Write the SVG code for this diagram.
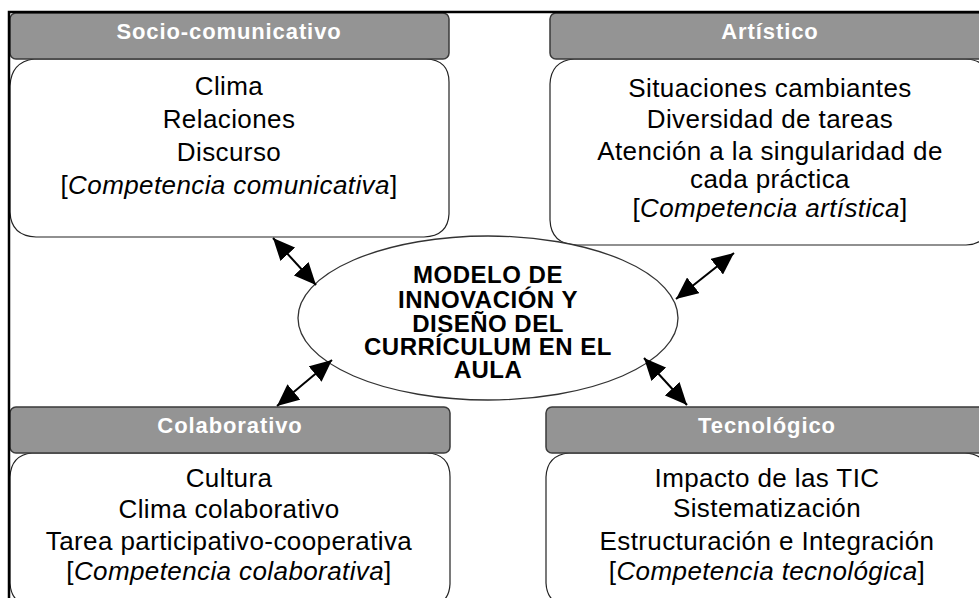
<svg xmlns="http://www.w3.org/2000/svg" width="979" height="598" viewBox="0 0 979 598">
<style>
.hdr{fill:#949494;stroke:#3a3a3a;stroke-width:1.5}
.body{fill:#fff;stroke:#222;stroke-width:1.2}
.ht{font-family:"Liberation Sans",Arial,sans-serif;font-weight:bold;font-size:22px;fill:#fff;text-anchor:middle;letter-spacing:0.9px}
.bt{font-family:"Liberation Sans",Arial,sans-serif;font-size:26px;fill:#000;text-anchor:middle;letter-spacing:0.4px}
.it{font-style:italic}
.et{font-family:"Liberation Sans",Arial,sans-serif;font-weight:bold;font-size:24px;fill:#000;text-anchor:middle;letter-spacing:0.5px}
.arr{stroke:#000;stroke-width:2;fill:none;marker-start:url(#ah);marker-end:url(#ah)}
</style>
<defs>
<marker id="ah" viewBox="0 0 22 20" refX="22" refY="10" markerWidth="22" markerHeight="20" markerUnits="userSpaceOnUse" orient="auto-start-reverse">
<path d="M0,0 L22,10 L0,20 z" fill="#000"/>
</marker>
</defs>
<rect width="979" height="598" fill="#fff"/>

<g id="socio">
<path class="body" d="M34,59 H426 Q449,60 449,82 V214 Q448,236 424,237 H36 Q11,236 10,212 V86 Q11,62 34,59 Z"/>
<rect class="hdr" x="10" y="13" width="439" height="46" rx="6"/>
<text class="ht" x="229" y="39">Socio-comunicativo</text>
<text class="bt" x="229" y="95">Clima</text>
<text class="bt" x="229" y="128">Relaciones</text>
<text class="bt" x="229" y="161">Discurso</text>
<text class="bt" x="229" y="194">[<tspan class="it">Competencia comunicativa</tspan>]</text>
</g>

<g id="artistico">
<path class="body" d="M574,59 H966 Q989,60 990,84 V220 Q989,244 966,245 H576 Q551,244 550,220 V84 Q551,61 574,59 Z"/>
<rect class="hdr" x="550" y="13" width="440" height="46" rx="6"/>
<text class="ht" x="770" y="39">Artístico</text>
<text class="bt" x="770" y="97">Situaciones cambiantes</text>
<text class="bt" x="770" y="128">Diversidad de tareas</text>
<text class="bt" x="770" y="160">Atención a la singularidad de</text>
<text class="bt" x="770" y="188">cada práctica</text>
<text class="bt" x="770" y="217">[<tspan class="it">Competencia artística</tspan>]</text>
</g>

<g id="colaborativo">
<path class="body" d="M32,453 H427 Q450,454 450,477 V584 Q449,606 426,606 H34 Q11,605 10,583 V477 Q11,455 32,453 Z"/>
<rect class="hdr" x="10" y="407" width="440" height="46" rx="6"/>
<text class="ht" x="230" y="433">Colaborativo</text>
<text class="bt" x="229" y="487">Cultura</text>
<text class="bt" x="229" y="518">Clima colaborativo</text>
<text class="bt" x="229" y="550">Tarea participativo-cooperativa</text>
<text class="bt" x="229" y="580">[<tspan class="it">Competencia colaborativa</tspan>]</text>
</g>

<g id="tecnologico">
<path class="body" d="M569,453 H965 Q988,454 988,477 V584 Q987,606 964,606 H570 Q547,605 546,583 V477 Q547,455 569,453 Z"/>
<rect class="hdr" x="546" y="407" width="442" height="46" rx="6"/>
<text class="ht" x="767" y="433">Tecnológico</text>
<text class="bt" x="767" y="487">Impacto de las TIC</text>
<text class="bt" x="767" y="517">Sistematización</text>
<text class="bt" x="767" y="550">Estructuración e Integración</text>
<text class="bt" x="767" y="580">[<tspan class="it">Competencia tecnológica</tspan>]</text>
</g>

<g id="centro">
<ellipse cx="488" cy="318" rx="190" ry="82" fill="#fff" stroke="#333" stroke-width="1.3"/>
<text class="et" x="488" y="283">MODELO DE</text>
<text class="et" x="488" y="308">INNOVACIÓN Y</text>
<text class="et" x="488" y="332">DISEÑO DEL</text>
<text class="et" x="488" y="355">CURRÍCULUM EN EL</text>
<text class="et" x="488" y="378">AULA</text>
</g>

<g id="connectors">
<line class="arr" x1="273" y1="238" x2="316" y2="285"/>
<line class="arr" x1="734" y1="253" x2="676" y2="299"/>
<line class="arr" x1="332" y1="360" x2="277" y2="406"/>
<line class="arr" x1="644" y1="358" x2="687" y2="405"/>
</g>

<path d="M9,598 V12 H979" fill="none" stroke="#000" stroke-width="2.5"/>
</svg>
